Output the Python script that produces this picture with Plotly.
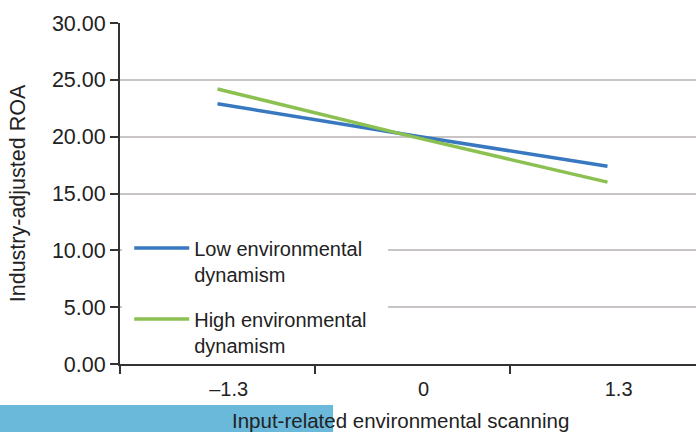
import plotly.graph_objects as go

categories = ["–1.3", "0", "1.3"]
low_dyn = [22.9, 20.1, 17.4]
high_dyn = [24.2, 20.0, 16.0]
y_ticks = [0, 5, 10, 15, 20, 25, 30]
y_tick_labels = ["0.00", "5.00", "10.00", "15.00", "20.00", "25.00", "30.00"]
x_title = "Input-related environmental scanning"
y_title = "Industry-adjusted ROA"

PAD = "\u00a0" * 4
FONT = "Liberation Sans, Arial, sans-serif"
PW, PH = 576, 341
CAT_W = 195
fig = go.Figure()
fig.add_trace(go.Scatter(x=categories, y=low_dyn, mode="lines",
                         name="Low environmental<br>dynamism", legendgroup="a",
                         line=dict(color="#3878c0", width=3.5)))
fig.add_trace(go.Scatter(x=categories, y=high_dyn, mode="lines",
                         name="High environmental<br>dynamism", legendgroup="b",
                         line=dict(color="#8cc152", width=3.5)))

# white legend backdrop (covers gridlines, not axis line)
fig.add_shape(type="rect", xref="x", yref="y",
              x0=-0.5 + 2/CAT_W, x1=-0.5 + 268/CAT_W,
              y0=6*30/PH, y1=134*30/PH,
              fillcolor="white", line=dict(width=0), layer="between")

fig.add_shape(type="rect", xref="paper", yref="paper", x0=-120/PW, x1=(333-120)/PW,
              y0=-68/PH, y1=-(405-364)/PH, fillcolor="#6ab8da", line=dict(width=0),
              layer="above")

fig.add_annotation(text=x_title, xref="paper", yref="paper",
                   x=(400-120)/PW, y=-(420-364)/PH, xanchor="center", yanchor="middle",
                   showarrow=False, font=dict(size=20.5, color="#222"))

fig.update_layout(
    width=696, height=432,
    margin=dict(l=120, r=0, t=23, b=68),
    paper_bgcolor="white", plot_bgcolor="white",
    font=dict(family=FONT, size=20, color="#222"),
    showlegend=True,
    legend=dict(x=0.016, y=0.397, xanchor="left", yanchor="top",
                bgcolor="rgba(0,0,0,0)", font=dict(size=20, color="#222"),
                tracegroupgap=16, itemwidth=55, valign="top"),
    xaxis=dict(type="category", range=[-0.5, -0.5 + PW/CAT_W],
               tickvals=categories, ticktext=[PAD + c for c in categories],
               showgrid=False, showline=True, linecolor="#333", linewidth=2,
               ticks="outside", tickson="boundaries", ticklen=8, tickcolor="#333", tickwidth=2,
               tickfont=dict(size=20, color="#222"), ticklabelstandoff=6),
    yaxis=dict(range=[0, 30], tickvals=y_ticks, ticktext=y_tick_labels,
               showgrid=True, gridcolor="#c9c5c5", gridwidth=1.5,
               showline=True, linecolor="#333", linewidth=2,
               ticks="outside", ticklen=8, tickcolor="#333", tickwidth=2,
               tickfont=dict(size=21.5, color="#222"), zeroline=False,
               title=dict(text=y_title, standoff=20,
                          font=dict(size=21.5, color="#222"))),
)
fig.write_html("out.html", config={"displayModeBar": False},
               post_script="document.body.style.margin='0px';")
